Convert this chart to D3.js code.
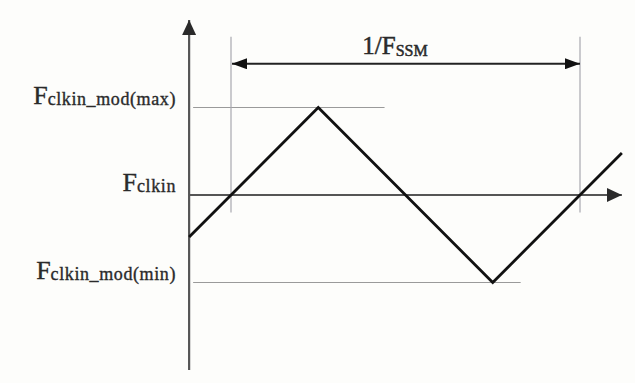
<!DOCTYPE html>
<html>
<head>
<meta charset="utf-8">
<script src="https://cdn.jsdelivr.net/npm/d3@7"></script>
<style>
  html, body { margin: 0; padding: 0; background: #fdfdfb; }
  svg { display: block; }
</style>
</head>
<body>
<svg id="chart" width="635" height="383"></svg>
<script>
// Triangular spread-spectrum modulation of the input clock frequency.
// Time is in units of one modulation period, frequency in units of the deviation.
const waveT = [-0.12, 0.25, 0.75, 1.12];
const waveV = [-0.48, 1, -1, 0.48];

// Frequency levels marked on the vertical axis
const levelValues = [1, 0, -1];
const levelSubs = ["clkin_mod(max)", "clkin", "clkin_mod(min)"];

// Period marker
const periodStart = 0;
const periodEnd = 1;
const periodText = "1/F";
const periodSub = "SSM";

const svg = d3.select("#chart");

const x = d3.scaleLinear().domain([0, 1]).range([231, 580]);
const y = d3.scaleLinear().domain([-1, 1]).range([282.5, 107.5]);

const tMin = -0.12, tMax = 1.12;
const vMin = -2, vMax = 2;

// arrowheads
const defs = svg.append("defs");
function marker(id, color, w, h) {
  defs.append("marker")
    .attr("id", id)
    .attr("viewBox", `0 0 ${w} ${h}`)
    .attr("refX", w).attr("refY", h / 2)
    .attr("markerUnits", "userSpaceOnUse")
    .attr("markerWidth", w).attr("markerHeight", h)
    .attr("orient", "auto-start-reverse")
    .append("path")
    .attr("d", `M0,0 L${w},${h / 2} L0,${h} Z`)
    .attr("fill", color);
}
marker("axisHead", "#2a2a2a", 15, 14);
marker("spanHead", "#111", 15, 11);

// thin guide lines at the modulation extremes
const guideEnds = [0.44, null, 0.83];
levelValues.forEach((v, i) => {
  if (guideEnds[i] === null) return;
  svg.append("line")
    .attr("x1", x(tMin) + 4).attr("x2", x(guideEnds[i]))
    .attr("y1", y(v)).attr("y2", y(v))
    .attr("stroke", "#9a9a9a").attr("stroke-width", 1.2);
});

// vertical guides bounding one period
[periodStart, periodEnd].forEach(t => {
  svg.append("line")
    .attr("x1", x(t)).attr("x2", x(t))
    .attr("y1", y(1.81)).attr("y2", y(-0.2))
    .attr("stroke", "#a8a8b0").attr("stroke-width", 1.2);
});

// axes
svg.append("line")
  .attr("x1", x(tMin)).attr("x2", x(tMin))
  .attr("y1", y(vMin)).attr("y2", y(vMax))
  .attr("stroke", "#555").attr("stroke-width", 2.2)
  .attr("marker-end", "url(#axisHead)");

svg.append("line")
  .attr("x1", x(tMin)).attr("x2", x(tMax))
  .attr("y1", y(0)).attr("y2", y(0))
  .attr("stroke", "#555").attr("stroke-width", 2.2)
  .attr("marker-end", "url(#axisHead)");

// period span arrow
svg.append("line")
  .attr("x1", x(periodStart) + 1).attr("x2", x(periodEnd))
  .attr("y1", y(1.5)).attr("y2", y(1.5))
  .attr("stroke", "#222").attr("stroke-width", 2)
  .attr("marker-start", "url(#spanHead)")
  .attr("marker-end", "url(#spanHead)");

// modulated frequency
const line = d3.line().x(d => x(d[0])).y(d => y(d[1]));
svg.append("path")
  .datum(waveT.map((t, i) => [t, waveV[i]]))
  .attr("d", line)
  .attr("fill", "none")
  .attr("stroke", "#111").attr("stroke-width", 2.8)
  .attr("stroke-linejoin", "miter");

// labels
const font = "'Liberation Serif', 'Times New Roman', serif";
levelValues.forEach((v, i) => {
  const t = svg.append("text")
    .attr("x", 176).attr("y", y(v) - 4)
    .attr("text-anchor", "end")
    .attr("font-family", font)
    .attr("fill", "#2a2a2a")
    .attr("stroke", "#2a2a2a").attr("stroke-width", 0.35);
  t.append("tspan").attr("font-size", 26).text("F");
  t.append("tspan").attr("font-size", 18).attr("dy", 1)
    .attr("letter-spacing", 0.6).text(levelSubs[i]);
});

const pt = svg.append("text")
  .attr("x", 395)
  .attr("y", y(1.5) - 10)
  .attr("text-anchor", "middle")
  .attr("font-family", font)
  .attr("fill", "#2a2a2a")
  .attr("stroke", "#2a2a2a").attr("stroke-width", 0.5);
pt.append("tspan").attr("font-size", 25).text(periodText);
pt.append("tspan").attr("font-size", 16).attr("dy", 2).text(periodSub);
</script>
</body>
</html>
